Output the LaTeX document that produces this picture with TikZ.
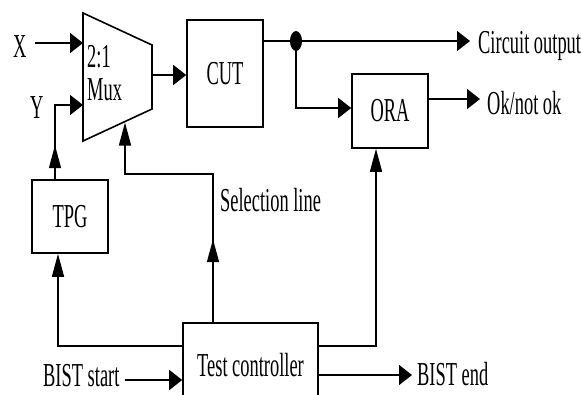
\documentclass[tikz,border=0pt]{standalone}
\usepackage{fontspec}
\setmainfont{Liberation Serif}[FakeStretch=0.55]
\usetikzlibrary{arrows.meta,shapes.geometric,calc}
\begin{document}
\begin{tikzpicture}[x=1pt,y=-1pt,
  lbl/.style={inner sep=0pt, font=\fontsize{33.5}{36}\selectfont},
  box/.style={draw, line width=1.6pt, inner sep=0pt, font=\fontsize{33.5}{36}\selectfont},
  wire/.style={line width=1.5pt},
  ha/.style={wire, -{Triangle[length=13pt,width=20pt]}},
  va/.style={wire, -{Triangle[length=23pt,width=12pt]}},
  dotnode/.style={fill, ellipse, minimum width=12pt, minimum height=20pt, inner sep=0pt}
]
\clip (0,0) rectangle (581,394);
% helper rows
\coordinate (r41) at (0,41);
\coordinate (r99) at (0,99);
\coordinate (r108) at (0,108);
\coordinate (r346) at (0,346);
\coordinate (r375) at (0,375);
\coordinate (r381) at (0,380);
% mux
\draw[line width=1.6pt] (83,13) coordinate (m1) -- (152,45) coordinate (m2) -- (152,109) coordinate (m3) -- (83,141) coordinate (m4) -- cycle;
\node[lbl, anchor=base west] (mux1) at (87,67) {2:1};
\node[lbl, anchor=base west] (mux2) at (87,100) {Mux};
\coordinate (mx) at (83,43);
\coordinate (my) at (83,105);
\coordinate (mo) at (152,75);
\coordinate (ms) at (125,122.5);
% boxes
\node[box, minimum width=76pt, minimum height=107pt] (cut) at (225,73.5) {CUT};
\node[box, minimum width=76pt, minimum height=74pt] (ora) at (390,111) {ORA};
\node[box, minimum width=76pt, minimum height=73pt] (tpg) at (70,216.5) {TPG};
\node[box, minimum width=135pt, minimum height=84pt] (tc) at (250.5,365) {Test controller};
% labels
\node[lbl, anchor=base west] (xl) at (13,57) {X};
\node[lbl, anchor=base west] (yl) at (30,118) {Y};
\node[lbl, anchor=base west] (sl) at (220,211) {Selection line};
\node[lbl, anchor=base west] (bs) at (43,386.5) {BIST start};
\node[lbl, anchor=base west] (be) at (417,385) {BIST end};
\node[lbl, anchor=base west] (co) at (478,53) {Circuit output};
\node[lbl, anchor=base west] (ok) at (487,114) {Ok/not ok};
% connectors
\draw[ha] ($(xl.east |- mx)+(8,0)$) -- (mx);
\coordinate (tpgy) at ($(tpg.north)+(-15,0)$);
\draw[va] (tpgy) -- ++(0,-34);
\draw[ha] (tpgy) |- (my);
\draw[ha] (mo) -- (mo -| cut.west);
\coordinate (sb) at ($(tc.north)+(-37.5,0)$);
\draw[va] (sb) -- ++(0,-83);
\draw[va] (sb) -- ($(sb)+(0,-148)$) -| (ms);
\draw[va] (tc.west |- r346) -| ($(tpg.south)+(-12,0)$);
\draw[va] (tc.east |- r346) -| ($(ora.south)+(-14,0)$);
\draw[ha] ($(bs.east |- r381)+(5,0)$) -- (tc.west |- r381);
\draw[ha] (tc.east |- r375) -- ($(be.west |- r375)+(-5,0)$);
\draw[ha] (cut.east |- r41) -- ($(co.west |- r41)+(-8,0)$);
\node[dotnode] (dot) at (296,41) {};
\draw[ha] (dot.center) |- (ora.west |- r108);
\draw[ha] (ora.east |- r99) -- ($(ok.west |- r99)+(-7,0)$);
\end{tikzpicture}
\end{document}
